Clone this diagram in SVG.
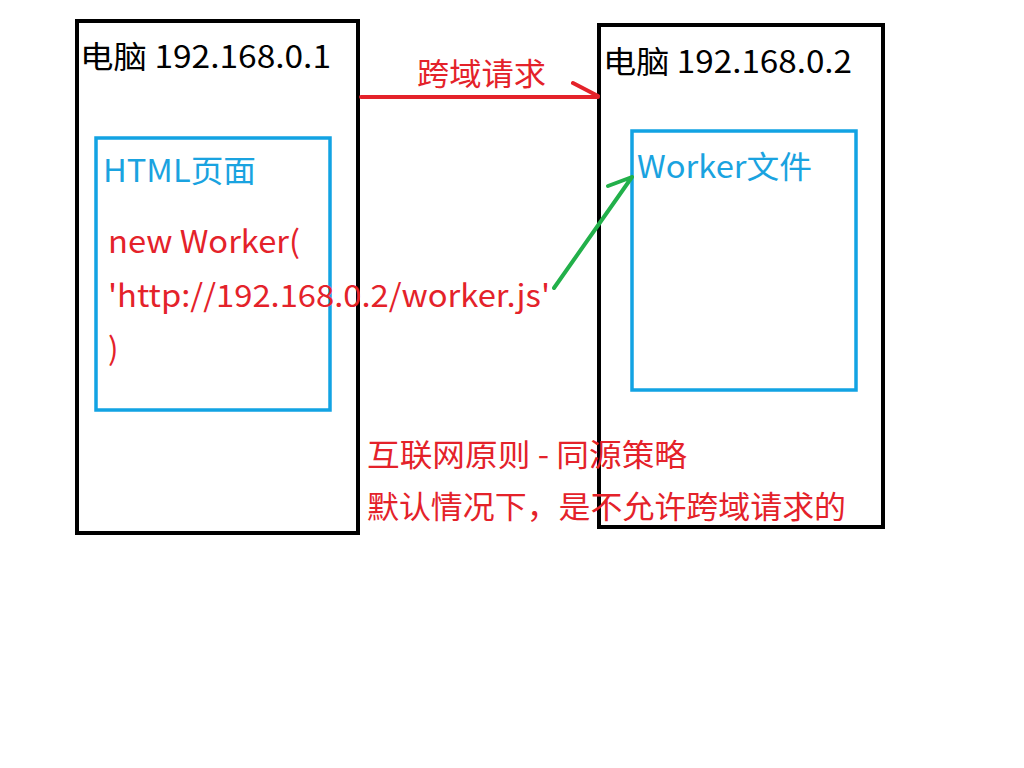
<svg xmlns="http://www.w3.org/2000/svg" width="1024" height="768" viewBox="0 0 1024 768">
<style>
text{font-family:"Noto Sans CJK SC","Liberation Sans",sans-serif;font-size:31px}
.blk{fill:#000}
.red{fill:#e4222a}
.blue{fill:#1aa3e0}
.box{fill:none;stroke:#000;stroke-width:4}
.bbox{fill:none;stroke:#12a3e3;stroke-width:3.5}
</style>
<rect width="1024" height="768" fill="#fff"/>
<g id="pc1">
<rect class="box" x="77" y="21" width="281" height="512"/>
<text class="blk" x="80" y="68" textLength="251" lengthAdjust="spacingAndGlyphs">电脑 192.168.0.1</text>
</g>
<g id="pc2">
<rect class="box" x="599" y="25" width="284" height="502"/>
<text class="blk" x="603" y="73" textLength="249" lengthAdjust="spacingAndGlyphs">电脑 192.168.0.2</text>
</g>
<g id="html">
<rect class="bbox" x="96" y="138" width="234" height="272"/>
<text class="blue" x="103" y="182" textLength="153" lengthAdjust="spacingAndGlyphs">HTML页面</text>
<text class="red" x="108" y="253" textLength="192" lengthAdjust="spacingAndGlyphs">new Worker(</text>
<text class="red" x="108" y="307" textLength="442" lengthAdjust="spacingAndGlyphs">'http://192.168.0.2/worker.js'</text>
<text class="red" x="108" y="360">)</text>
</g>
<g id="worker">
<rect class="bbox" x="632" y="131" width="224" height="259"/>
<text class="blue" x="637" y="178" textLength="175" lengthAdjust="spacingAndGlyphs">Worker文件</text>
</g>
<g id="connectors" fill="none" stroke-linecap="round">
<path d="M361 97 H598 M573 83 L598 96" stroke="#e4222a" stroke-width="4"/>
<path d="M554 288 L632 177 M608 186 L632 177" stroke="#22b04a" stroke-width="4"/>
<text class="red" x="417" y="85" stroke="none" textLength="129" lengthAdjust="spacingAndGlyphs">跨域请求</text>
</g>
<g id="note">
<text class="red" x="367" y="466" textLength="320" lengthAdjust="spacingAndGlyphs">互联网原则 - 同源策略</text>
<text class="red" x="367" y="518" textLength="479" lengthAdjust="spacingAndGlyphs">默认情况下，是不允许跨域请求的</text>
</g>
</svg>
